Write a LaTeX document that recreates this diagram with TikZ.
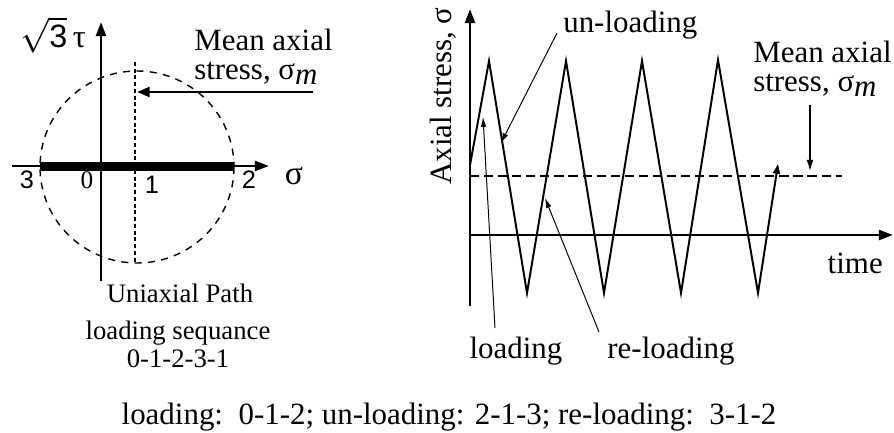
\documentclass[tikz,border=0pt]{standalone}
\usepackage{fontspec}
\setmainfont{Liberation Serif}
\newfontfamily\sansfont{Liberation Sans}
\usepackage{tikz}
\usetikzlibrary{arrows.meta}

\begin{document}
\begin{tikzpicture}[x=0.025cm,y=-0.025cm,every node/.style={font=\fontsize{22}{20.5}\selectfont,inner sep=0pt},
  axis/.style={line width=1.9pt,-{Triangle[length=10pt,width=7pt]}},
  pointer/.style={line width=0.7pt,-{Latex[length=7pt,width=4pt]}},
  digit/.style={font=\fontsize{18}{18}\sansfont},
  path label/.style={font=\fontsize{19}{20}\selectfont,align=center}]
  \useasboundingbox (0,0) rectangle (894,433);
  % stress path in the sigma-tau plane
  \coordinate (c) at (137,167);
  \coordinate (h0) at (12,166);
  \coordinate (h1) at (269,166);
  \coordinate (v0) at (101,281);
  \coordinate (v1) at (101,22);
  \coordinate (b0) at (40,166);
  \coordinate (b1) at (234,166);
  \coordinate (d0) at (135,62);
  \coordinate (d1) at (135,263);
  \coordinate (a0) at (313,92);
  \coordinate (a1) at (137,92);
  \draw[line width=1pt,dash pattern=on 5pt off 4.5pt] (c) circle [x radius=97,y radius=96];
  \draw[line width=1.4pt,dash pattern=on 2.8pt off 2pt] (d0) -- (d1);
  \draw[line width=6.4pt] (b0) -- (b1);
  \draw[axis] (h0) -- (h1);
  \draw[axis] (v0) -- (v1);
  \draw[line width=2pt,-{Triangle[length=9pt,width=7pt]}] (a0) -- (a1);
  \node[anchor=base] (tau) at (53,48) {\fontsize{23}{23}\selectfont$\sqrt{\hbox{\sansfont 3}}$\,τ};
  \node (sig) at (294,176) {\fontsize{24}{24}\selectfont σ};
  \node[digit] (n3) at (27,180) {3};
  \node[font=\fontsize{18}{18}\selectfont] (n0) at (87,180) {0};
  \node[digit] (n1) at (152,185) {1};
  \node[digit] (n2) at (249,180) {2};
  \node[align=left,anchor=north west] (meanl) at (194,29) {Mean axial\\stress, σ\raisebox{-0.35ex}{\itshape m}};
  \node[path label,anchor=base] (upath) at (180,302) {Uniaxial Path};
  \node[path label,anchor=north] (useq) at (178,321) {loading sequance\\0-1-2-3-1};
  % axial stress versus time
  \coordinate (O) at (470,235);
  \coordinate (T) at (470,9);
  \coordinate (B) at (470,306);
  \coordinate (E) at (893,235);
  \coordinate (m0) at (470,176);
  \coordinate (m1) at (842,176);
  \coordinate (z0) at (470,165);
  \coordinate (z1) at (489,61);
  \coordinate (z2) at (527,293);
  \coordinate (z3) at (566,61);
  \coordinate (z4) at (604,293);
  \coordinate (z5) at (642,61);
  \coordinate (z6) at (681,293);
  \coordinate (z7) at (718,60);
  \coordinate (z8) at (758,293);
  \coordinate (z9) at (778,164);
  \draw[line width=1.6pt,dash pattern=on 6.5pt off 3.5pt] (m0) -- (m1);
  \draw[axis] (B) -- (T);
  \draw[axis] (O) -- (E);
  \draw[line width=1.4pt,line join=miter,-{Triangle[length=7pt,width=5pt]}]
    (z0) -- (z1) -- (z2) -- (z3) -- (z4) -- (z5) -- (z6) -- (z7) -- (z8) -- (z9);
  \node[rotate=90,anchor=base west] (ylab) at (451,185) {Axial stress, σ};
  \node[anchor=base east] (time) at (883,273) {time};
  \node[align=left,anchor=north west] (meanr) at (753,41) {Mean axial\\stress, σ\raisebox{-0.35ex}{\itshape m}};
  \node[anchor=base west] (unl) at (563,33) {un-loading};
  \node[anchor=base] (ld) at (516,358) {loading};
  \node[anchor=base] (rld) at (671,358) {re-loading};
  \coordinate (u0) at (557,33);
  \coordinate (u1) at (501,143);
  \coordinate (l0) at (495,328);
  \coordinate (l1) at (483,117);
  \coordinate (r0) at (599,332);
  \coordinate (r1) at (545,198);
  \coordinate (s0) at (810,105);
  \coordinate (s1) at (810,171);
  \draw[pointer] (u0) -- (u1);
  \draw[pointer] (l0) -- (l1);
  \draw[pointer] (r0) -- (r1);
  \draw[line width=1pt,-{Latex[length=8pt,width=5pt]}] (s0) -- (s1);
  \node[anchor=base] (summary) at (449,424) {loading:\ \ 0-1-2; un-loading: 2-1-3; re-loading:\ \ 3-1-2};
\end{tikzpicture}
\end{document}
